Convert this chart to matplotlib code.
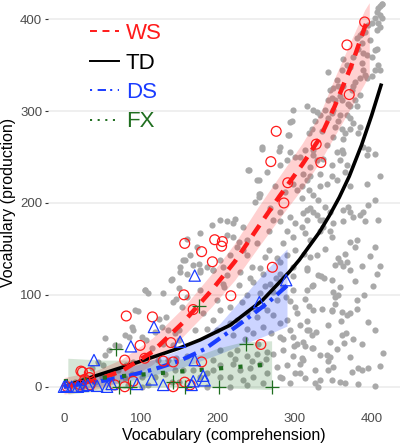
import matplotlib
matplotlib.use("Agg")
import matplotlib.pyplot as plt
from matplotlib.lines import Line2D

plt.rcParams["font.family"] = ["Liberation Sans", "DejaVu Sans"]
plt.rcParams["lines.scale_dashes"] = False

# TD children (gray points): comprehension, production
td_x = [
    413, 411, 409, 414, 407, 411, 405, 413, 409, 411, 407, 400, 396, 392, 387, 385, 398, 381, 387, 383,
    389, 394, 376, 400, 405, 407, 409, 411, 405, 400, 387, 389, 392, 394, 385, 379, 372, 368, 363, 361,
    344, 355, 357, 350, 346, 344, 348, 353, 361, 370, 372, 379, 381, 385, 374, 376, 363, 359, 340, 348,
    350, 359, 368, 357, 372, 353, 361, 366, 372, 376, 385, 383, 324, 329, 333, 327, 322, 318, 335, 350,
    363, 344,
    355, 361, 363, 394, 405, 396, 389, 359, 368, 366, 355, 372, 394, 411, 405, 396, 389, 385, 392, 370,
    363, 372, 376, 363, 350, 346, 348, 337, 333, 329, 324, 320, 316, 311, 316, 309, 314, 320, 333, 346,
    340, 331, 324, 318, 309, 333, 342, 348, 333, 320, 316, 329, 337, 320, 309, 409, 372, 381, 405, 379,
    366, 357, 359, 368, 353, 363, 387, 411, 372, 329, 320, 316, 337, 348, 324, 314, 342,
    316, 331, 348, 324, 322, 316, 314, 350, 359, 353, 381, 407, 381, 348, 348, 324, 335, 361, 368, 372,
    344, 316, 307, 316, 318, 322, 361, 311, 314, 322, 324, 355, 346, 387, 415, 342, 346, 333, 372, 309,
    311, 307, 327, 344, 350, 383, 396, 411, 374, 314, 333, 327, 331, 348, 359, 366, 383, 405, 307,
    160, 177, 194, 212, 229, 242, 259, 281, 298, 207, 227, 246, 268, 285, 298, 177, 160, 199, 216, 238,
    255, 272, 277, 294, 300, 303, 290, 181, 194, 203, 170, 186, 199, 216, 225, 238, 251, 264, 272, 281,
    259, 246, 238, 220, 281, 294, 298, 303, 285, 298, 290, 300, 281, 294, 277, 272, 203, 216, 225, 238,
    251, 264, 194, 203, 220, 229, 242, 255, 264, 246, 233, 216, 203, 194, 186, 177, 168, 160, 155, 186,
    216, 259, 238,
    257, 279, 294, 300, 290, 281, 264, 240, 253, 298, 303, 255, 253, 248, 268, 281, 294, 300, 281, 290,
    298, 285, 300, 290, 281, 266, 261, 255, 244, 238, 233, 225, 227, 220, 212, 203, 212, 220, 222, 233,
    192, 177, 173, 164, 168, 155, 151, 203, 216, 207, 194, 186, 177, 160, 251, 266, 272, 238, 277, 298,
    298, 296, 293, 316, 294, 257, 239, 251, 291, 281, 307, 324, 311, 274, 253, 287,
    140, 150, 129, 105, 109, 92, 96, 88, 90, 133, 124, 142, 146, 153, 53, 79, 85, 66, 72, 53,
    59, 44, 51, 36, 101, 107, 118, 127, 135, 144, 150, 114, 129, 142, 150, 109, 122, 135, 146, 90,
    81, 70, 62, 49, 23, 14, 40, 79, 88, 101, 118, 131, 144, 140, 150, 101, 109, 83, 23, 10,
    139, 105, 157, 151, 175,
    338, 352, 367, 395, 402, 328, 344, 360, 376, 390, 312, 334, 356, 378, 398, 318, 340, 364, 388, 404,
    231, 248, 262, 276, 289, 235, 252, 269, 285, 299, 208, 222, 244, 263, 283,
]
td_y = [
    417, 414, 412, 416, 408, 405, 401, 401, 396, 392, 388, 396, 394, 386, 385, 383, 377, 379, 374, 368,
    363, 361, 359, 359, 367, 368, 350, 345, 345, 338, 352, 345, 339, 336, 336, 332, 348, 350, 357, 345,
    343, 334, 327, 325, 323, 312, 314, 312, 312, 308, 305, 312, 305, 318, 323, 327, 327, 316, 301, 298,
    301, 296, 296, 289, 292, 283, 281, 276, 281, 287, 283, 276, 301, 299, 296, 289, 281, 276, 278, 272,
    270, 292,
    256, 258, 254, 252, 253, 259, 261, 247, 241, 234, 225, 219, 221, 229, 203, 198, 190, 187, 180, 196,
    192, 190, 185, 180, 178, 170, 163, 174, 181, 187, 190, 194, 192, 189, 181, 174, 167, 160, 170, 190,
    196, 203, 209, 214, 205, 218, 221, 229, 232, 229, 225, 247, 248, 239, 218, 181, 158, 160, 152, 152,
    145, 140, 136, 136, 132, 131, 131, 131, 127, 143, 141, 129, 181, 241, 252, 258, 263,
    127, 122, 116, 111, 110, 105, 96, 103, 109, 98, 94, 123, 85, 83, 82, 83, 85, 81, 78, 80,
    67, 71, 67, 62, 62, 56, 56, 49, 44, 42, 42, 41, 49, 47, 37, 35, 32, 35, 32, 31,
    29, 25, 18, 18, 22, 20, 20, 23, 16, 9, 7, 4, 0, 7, 5, 4, 3, 1, 15,
    123, 125, 127, 122, 125, 118, 123, 123, 120, 112, 111, 114, 112, 109, 105, 105, 98, 94, 87, 100,
    102, 103, 94, 93, 87, 80, 73, 80, 73, 83, 62, 63, 62, 69, 73, 80, 76, 83, 78, 69,
    65, 58, 63, 56, 54, 62, 54, 47, 40, 33, 24, 15, 11, 4, 22, 36, 40, 36, 40, 33,
    36, 38, 29, 24, 25, 18, 20, 25, 15, 11, 7, 11, 11, 18, 15, 11, 18, 33, 18, 0,
    0, 4, 2,
    259, 257, 256, 250, 247, 241, 234, 236, 225, 221, 214, 210, 207, 201, 194, 190, 185, 178, 180, 170,
    163, 156, 149, 143, 136, 149, 141, 129, 130, 143, 149, 152, 158, 163, 165, 181, 180, 178, 183, 174,
    176, 167, 152, 143, 132, 138, 130, 138, 143, 130, 127, 130, 127, 161, 156, 169, 181, 160, 140, 130,
    301, 289, 274, 305, 288, 261, 236, 225, 274, 261, 250, 258, 232, 218, 210, 212,
    117, 107, 102, 105, 102, 84, 82, 65, 62, 76, 74, 92, 96, 87, 53, 56, 54, 45, 44, 34,
    40, 27, 24, 20, 54, 51, 60, 65, 62, 58, 62, 42, 47, 45, 51, 33, 29, 29, 31, 27,
    24, 18, 14, 11, 7, 5, 5, 9, 14, 11, 11, 14, 18, 5, 5, 0, 2, 2, 0, 2,
    116, 105, 138, 125, 134,
    118, 90, 58, 70, 110, 60, 28, 72, 52, 100, 145, 120, 100, 115, 142, 88, 150, 48, 18, 62,
    92, 85, 110, 118, 98, 52, 47, 58, 52, 44, 108, 30, 28, 30, 9,
]

# Williams syndrome (red circles)
ws_x = [391, 368, 371, 276, 328, 269, 334, 291, 286, 157, 196, 206, 205, 179, 193, 271, 156, 217, 168, 256,
        179, 164, 81, 115, 99, 139, 79, 105, 129, 142, 24, 33, 33, 27, 79, 90, 66, 142, 157, 4, 21, 34, 22]
ws_y = [397, 372, 318, 278, 264, 245, 244, 222, 200, 156, 160, 158, 153, 147, 136, 130, 100, 99, 84, 46,
        27, 2, 77, 76, 45, 48, 29, 31, 28, 27, 16, 15, 10, 8, 0, 6, 2, 0, 5, 0, 2, 2, 17]

# Down syndrome (blue triangles)
ds_x = [170, 117, 87, 151, 39, 170, 114, 129, 168, 289, 254, 181, 183, 0, 3, 10, 18, 25, 31, 43, 56, 95, 62, 166]
ds_y = [121, 65, 44, 49, 29, 29, 8, 2, 6, 116, 92, 12, 7, 0, 1, 0, 0, 1, 2, 1, 0, 3, 3, 2]

# Fragile X (green plus)
fx_x = [68, 176, 71, 86, 157, 142, 237, 201, 270]
fx_y = [41, 88, 0, 0, 0, 5, 46, 0, 0]

# fitted curves and ribbons
ws_fit_x = [0, 40, 75, 115, 155, 192, 222, 252, 280, 310, 333, 352, 374, 394]
ws_fit_y = [0, 7, 17, 38, 70, 105, 136, 173, 207, 242, 271, 305, 350, 398]
ws_rib_x = [0, 40, 75, 115, 155, 192, 222, 252, 280, 310, 333, 352, 374, 391, 397]
ws_rib_lo = [-8, -3, 5, 24, 55, 87, 116, 151, 183, 216, 245, 273, 305, 330, 340]
ws_rib_hi = [10, 17, 30, 53, 86, 123, 156, 195, 229, 265, 297, 336, 378, 410, 418]

td_fit_x = [0, 38, 90, 150, 177, 216, 258, 293, 306, 332, 345, 358, 371, 387, 400, 413]
td_fit_y = [0, 11, 25, 42, 51, 67, 94, 125, 138, 168, 186, 206, 229, 263, 295, 330]

ds_fit_x = [0, 48, 85, 117, 150, 183, 210, 238, 266, 290]
ds_fit_y = [0, 6, 12, 19, 28, 41, 57, 74, 92, 110]
ds_rib_x = [0, 50, 100, 150, 177, 203, 229, 263, 290]
ds_rib_lo = [-4, 1, 9, 20, 28, 36, 45, 56, 66]
ds_rib_hi = [5, 14, 25, 40, 51, 69, 94, 127, 150]

fx_fit_x = [0, 60, 120, 180, 240, 270]
fx_fit_y = [6, 10.5, 14.5, 18.5, 22.5, 24.5]
fx_rib_x = [5, 50, 100, 150, 177, 200, 233, 270]
fx_rib_lo = [-8, -4, -1, 0, 0, -1, -2, -3]
fx_rib_hi = [31, 29, 29, 30, 35, 42, 49, 50]

RED = "#ff1a1a"
BLUE = "#1a3cff"
GREEN = "#1f6e1f"

fig = plt.figure(figsize=(4.0, 4.44), dpi=100)
ax = fig.add_axes([0.12, 0.0878, 0.88, 0.912])

ax.scatter(td_x, td_y, s=20, color="#a9a9a9", linewidths=0, zorder=1)

ax.fill_between(ws_rib_x, ws_rib_lo, ws_rib_hi, color=RED, alpha=0.2, linewidth=0, zorder=2)
ax.fill_between(ds_rib_x, ds_rib_lo, ds_rib_hi, color=BLUE, alpha=0.22, linewidth=0, zorder=2)
ax.fill_between(fx_rib_x, fx_rib_lo, fx_rib_hi, color="#2e7d32", alpha=0.2, linewidth=0, zorder=2)

ax.plot(td_fit_x, td_fit_y, color="black", lw=2.6, solid_capstyle="butt", zorder=3)
ax.plot(ws_fit_x, ws_fit_y, color=RED, lw=3.2, dashes=(9, 6), dash_capstyle="butt", zorder=3)
ax.plot(ds_fit_x, ds_fit_y, color=BLUE, lw=3.0, dashes=(2.5, 4, 10, 4), dash_capstyle="butt", zorder=3)
ax.plot(fx_fit_x, fx_fit_y, color=GREEN, lw=3, dashes=(3, 11), dash_capstyle="butt", zorder=3)

ax.scatter(ws_x, ws_y, s=50, facecolors="none", edgecolors=RED, linewidths=0.9, zorder=4)
ax.scatter(ds_x, ds_y, s=66, marker="^", facecolors="none", edgecolors=BLUE, linewidths=0.9, zorder=4)
ax.scatter(fx_x, fx_y, s=95, marker="+", color=GREEN, linewidths=0.9, zorder=4)

ax.set_xlim(-20.8, 437)
ax.set_ylim(-19.9, 420.8)
ax.set_xticks([0, 100, 200, 300, 400])
ax.set_yticks([0, 100, 200, 300, 400])
for s in ax.spines.values():
    s.set_visible(False)
ax.grid(axis="y", color="#ebebeb", lw=1.1)
ax.set_axisbelow(True)
ax.tick_params(axis="y", length=2.2, width=0.8, color="#333333", labelcolor="#4d4d4d",
               labelsize=9.5, pad=2)
ax.tick_params(axis="x", length=0, labelcolor="#4d4d4d", labelsize=9.5, pad=6)
ax.set_xlabel("Vocabulary (comprehension)", fontsize=11.5, labelpad=2)
ax.set_ylabel("Vocabulary (production)", fontsize=11.5, labelpad=3)

handles = [
    Line2D([], [], color=RED, lw=1.4, dashes=(5, 4)),
    Line2D([], [], color="black", lw=1.4),
    Line2D([], [], color=BLUE, lw=1.4, dashes=(1.5, 4, 6, 3)),
    Line2D([], [], color=GREEN, lw=1.4, dashes=(1.5, 4)),
]
labels = ["WS", "TD", "DS", "FX"]
ax.legend(handles, labels, loc="upper left", bbox_to_anchor=(0.095, 0.965), frameon=False,
          fontsize=16, handlelength=1.3, handletextpad=0.3, labelspacing=0.38,
          labelcolor=[RED, "black", BLUE, GREEN], borderaxespad=0)

fig.savefig("out.png", dpi=100)
